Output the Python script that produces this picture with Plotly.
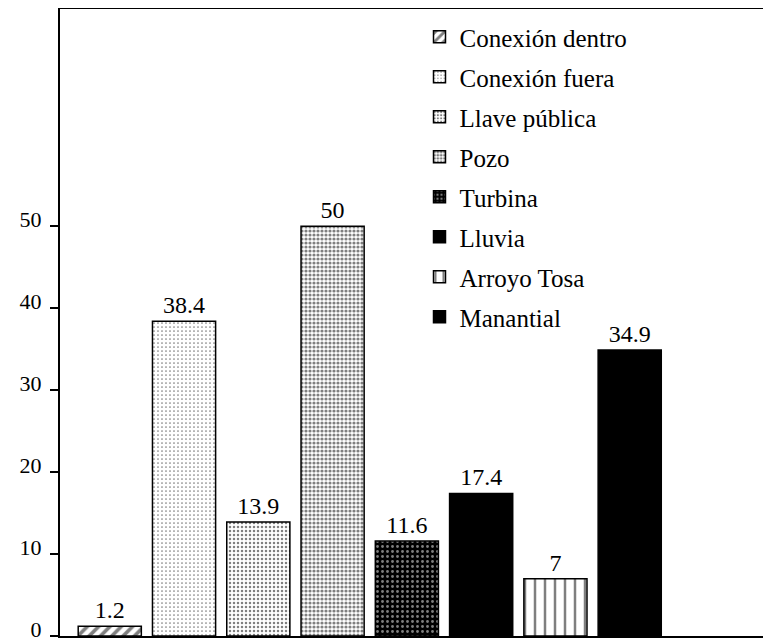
import plotly.graph_objects as go

categorias = ['Conexión dentro', 'Conexión fuera', 'Llave pública', 'Pozo',
              'Turbina', 'Lluvia', 'Arroyo Tosa', 'Manantial']
porcentajes = [1.2, 38.4, 13.9, 50, 11.6, 17.4, 7, 34.9]
marcas_y = [0, 10, 20, 30, 40, 50]

# tramas en blanco y negro, una por fuente de agua
tramas = [
    dict(shape='/', fgcolor='black', bgcolor='white', size=8, solidity=0.45),
    dict(shape='.', fgcolor='black', bgcolor='white', size=4, solidity=0.15),
    dict(shape='.', fgcolor='black', bgcolor='white', size=4, solidity=0.3),
    dict(shape='.', fgcolor='black', bgcolor='white', size=4, solidity=0.5),
    dict(shape='.', fgcolor='white', bgcolor='black', size=5, solidity=0.25),
    dict(shape='', fgcolor='black', bgcolor='black'),
    dict(shape='|', fgcolor='black', bgcolor='white', size=10, solidity=0.25),
    dict(shape='', fgcolor='black', bgcolor='black'),
]
relleno = ['white', 'white', 'white', 'white', 'black', 'black', 'white', 'black']

fuente = 'Liberation Serif, Times New Roman, serif'

fig = go.Figure()

for i, cat in enumerate(categorias):
    fig.add_trace(go.Bar(
        x=[cat],
        y=[porcentajes[i]],
        name=cat,
        legendgroup=cat,
        width=0.85,
        marker=dict(color=relleno[i], pattern=tramas[i],
                    line=dict(color='black', width=1.5)),
        texttemplate='%{y}',
        textposition='outside',
        textfont=dict(family=fuente, size=24, color='black'),
        cliponaxis=False,
    ))

fig.update_layout(
    width=771,
    height=639,
    barmode='overlay',
    margin=dict(l=52, r=0, t=1, b=11, autoexpand=False),
    paper_bgcolor='white',
    plot_bgcolor='white',
    font=dict(family=fuente, size=22, color='black'),
    showlegend=True,
    legend=dict(
        x=0.50, y=0.992, xanchor='left', yanchor='top',
        font=dict(family=fuente, size=25, color='black'),
        traceorder='grouped',
        tracegroupgap=4.5,
        bgcolor='rgba(0,0,0,0)',
    ),
    xaxis=dict(
        range=[-0.67, 9.01],
        showticklabels=False,
        ticks='',
        showgrid=False,
        showline=True,
        linecolor='black',
        linewidth=2,
        mirror=True,
        zeroline=False,
    ),
    yaxis=dict(
        range=[0, 76.5],
        tickvals=marcas_y,
        ticks='outside',
        ticklen=8,
        tickwidth=1.5,
        tickcolor='black',
        ticklabelshift=-7,
        ticklabelstandoff=4,
        showgrid=False,
        showline=True,
        linecolor='black',
        linewidth=2,
        zeroline=False,
        automargin=False,
        tickfont=dict(family=fuente, size=22, color='black'),
    ),
)

fig.write_html("out.html")
